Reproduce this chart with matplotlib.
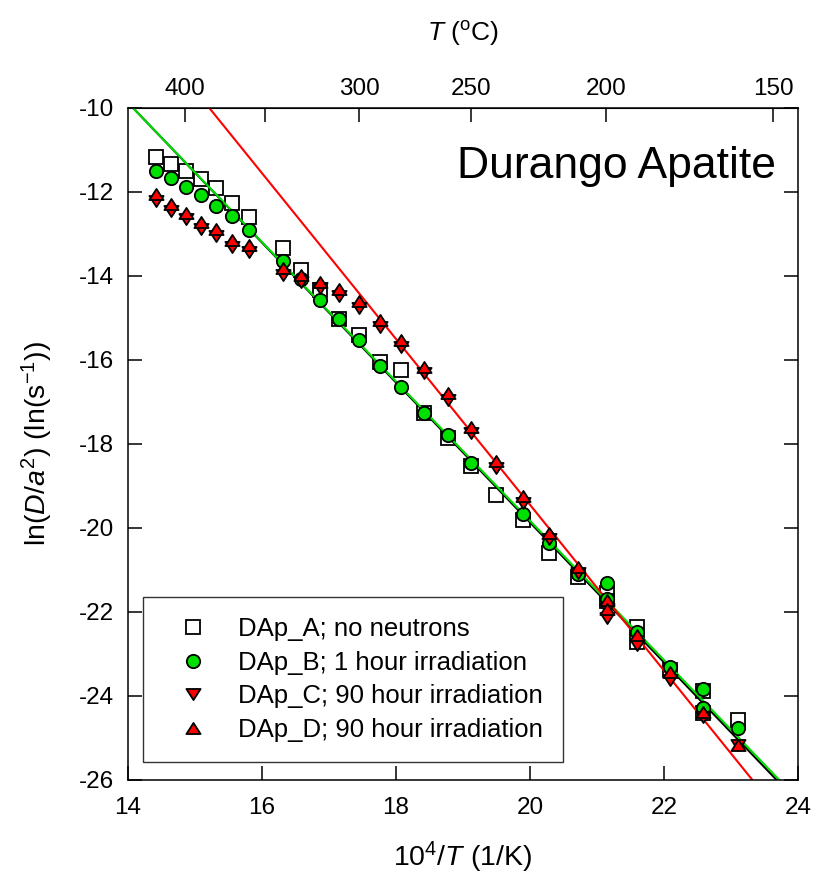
import matplotlib
matplotlib.use("Agg")
import matplotlib.pyplot as plt
import numpy as np
from matplotlib.path import Path

plt.rcParams['font.family'] = ['Liberation Sans', 'DejaVu Sans']
plt.rcParams['mathtext.fontset'] = 'custom'
plt.rcParams['mathtext.rm'] = 'Liberation Sans'
plt.rcParams['mathtext.it'] = 'Liberation Sans:italic'
plt.rcParams['axes.unicode_minus'] = False

# ---- data ----
A_x = [14.42, 14.64, 14.86, 15.09, 15.31, 15.55, 15.80, 16.31, 16.58, 16.86, 17.15, 17.45,
       17.76, 18.08, 18.42, 18.77, 19.12, 19.49, 19.89, 20.29, 20.71, 21.15, 21.15, 21.60,
       21.60, 22.09, 22.58, 22.58, 23.11]
A_y = [-11.18, -11.33, -11.50, -11.70, -11.92, -12.26, -12.61, -13.34, -13.86, -14.34, -15.04,
       -15.41, -16.05, -16.25, -17.26, -17.87, -18.53, -19.21, -19.81, -20.59, -21.16, -21.55,
       -21.75, -22.36, -22.72, -23.38, -23.88, -24.40, -24.57]

B_x = [14.42, 14.64, 14.86, 15.09, 15.31, 15.55, 15.80, 16.31, 16.58, 16.86, 17.15, 17.45,
       17.76, 18.08, 18.42, 18.77, 19.12, 19.89, 20.29, 20.71, 21.15, 21.15, 21.60, 22.09,
       22.58, 22.58, 23.11]
B_y = [-11.51, -11.67, -11.88, -12.08, -12.35, -12.58, -12.91, -13.64, -14.08, -14.58, -15.03,
       -15.54, -16.15, -16.65, -17.26, -17.80, -18.46, -19.67, -20.36, -21.09, -21.30, -21.70,
       -22.47, -23.30, -23.84, -24.29, -24.77]

C_x = [14.42, 14.64, 14.86, 15.09, 15.31, 15.55, 15.80, 16.31, 16.58, 16.86, 17.15, 17.45,
       17.76, 18.08, 18.42, 18.77, 19.12, 19.49, 19.89, 20.29, 20.71, 21.15, 21.15, 21.60,
       22.09, 22.58, 23.11]
C_y = [-12.22, -12.45, -12.66, -12.89, -13.05, -13.31, -13.43, -13.98, -14.14, -14.30, -14.48,
       -14.77, -15.21, -15.69, -16.32, -16.96, -17.75, -18.58, -19.40, -20.27, -21.08, -21.93,
       -22.14, -22.79, -23.62, -24.49, -25.16]

D_x = [14.42, 14.64, 14.86, 15.09, 15.31, 15.55, 15.80, 16.31, 16.58, 16.86, 17.15, 17.45,
       17.76, 18.08, 18.42, 18.77, 19.12, 19.49, 19.89, 20.29, 20.71, 21.15, 21.15, 21.60,
       22.09, 22.58, 23.11]
D_y = [-12.06, -12.29, -12.50, -12.73, -12.89, -13.15, -13.27, -13.82, -13.98, -14.14, -14.32,
       -14.61, -15.05, -15.53, -16.16, -16.80, -17.59, -18.42, -19.24, -20.11, -20.92, -21.71,
       -21.93, -22.55, -23.42, -24.37, -25.16]

# fitted Arrhenius lines: (slope, intercept)
fit_black = (-1.665, 13.43)
fit_green = (-1.658, 13.33)
fit_red = (-1.973, 20.01)

labels = ['DAp_A; no neutrons', 'DAp_B; 1 hour irradiation',
          'DAp_C; 90 hour irradiation', 'DAp_D; 90 hour irradiation']
top_ticks_C = [400, 350, 300, 250, 200, 150]
top_tick_labels = ['400', '', '300', '250', '200', '150']

# flattened triangle markers (SigmaPlot style)
tri_up = Path([(0, 0.78), (-1, -0.78), (1, -0.78), (0, 0.78)],
              [Path.MOVETO, Path.LINETO, Path.LINETO, Path.CLOSEPOLY])
tri_dn = Path([(0, -0.78), (-1, 0.78), (1, 0.78), (0, -0.78)],
              [Path.MOVETO, Path.LINETO, Path.LINETO, Path.CLOSEPOLY])

# ---- figure ----
fig = plt.figure(figsize=(8.15, 8.9), dpi=100)
ax = fig.add_axes([128/815, 1-780/890, 670/815, 672.3/890])

xl = np.array([13.5, 24.5])
ax.plot(xl, fit_black[0]*xl + fit_black[1], color='black', lw=1.5, zorder=2)
ax.plot(xl, fit_green[0]*xl + fit_green[1], color='#00dd00', lw=1.5, zorder=2.1)
ax.plot(xl, fit_red[0]*xl + fit_red[1], color='#ff0000', lw=1.5, zorder=2.2)

mew = 1.3
hA, = ax.plot(A_x, A_y, 's', ms=10, mfc='white', mec='black', mew=mew, zorder=1.5, label=labels[0])
hB, = ax.plot(B_x, B_y, 'o', ms=9.6, mfc='#00e000', mec='black', mew=mew, zorder=3, label=labels[1])
hC, = ax.plot(C_x, C_y, linestyle='none', marker=tri_dn, ms=10.2, mfc='#ff0000', mec='black',
              mew=mew, zorder=4, label=labels[2])
hD, = ax.plot(D_x, D_y, linestyle='none', marker=tri_up, ms=10.2, mfc='#ff0000', mec='black',
              mew=mew, zorder=4.1, label=labels[3])

ax.set_xlim(14, 24)
ax.set_ylim(-26, -10)
ax.set_xticks([14, 16, 18, 20, 22, 24])
ax.set_yticks([-26, -24, -22, -20, -18, -16, -14, -12, -10])
ax.tick_params(axis='both', direction='in', length=10, width=1.1, labelsize=17.5)
ax.tick_params(axis='x', pad=12)
ax.tick_params(axis='y', pad=10, right=True)
for s in ax.spines.values():
    s.set_linewidth(1.1)

ax.set_xlabel(r'10$^4$/$\mathit{T}$ (1/K)', fontsize=20.5, labelpad=15)
ax.set_ylabel(r'ln($\mathit{D/a}^2$) (ln(s$^{-1}$))', fontsize=20.5, labelpad=17)

def fwd(x):
    x = np.asarray(x, dtype=float)
    with np.errstate(divide='ignore'):
        return 1e4 / x - 273.15

def inv(t):
    t = np.asarray(t, dtype=float)
    with np.errstate(divide='ignore'):
        return 1e4 / (t + 273.15)

sec = ax.secondary_xaxis('top', functions=(fwd, inv))
sec.set_xticks(top_ticks_C)
sec.set_xticklabels(top_tick_labels)
sec.tick_params(direction='in', length=10, width=1.1, labelsize=17.5, pad=5.5)
sec.set_xlabel(r'$\mathit{T}$ ($^{\mathrm{o}}$C)', fontsize=19, labelpad=27)

ax.text(0.967, 0.913, 'Durango Apatite', transform=ax.transAxes, ha='right', va='center', fontsize=32)

leg = ax.legend(handles=[hA, hB, hC, hD], loc='lower left', bbox_to_anchor=(0.0224, 0.027),
                fontsize=18.5, frameon=True, fancybox=False, edgecolor='black',
                borderpad=0.78, labelspacing=0.37, handlelength=2.33, handletextpad=0.58,
                numpoints=1, borderaxespad=0)
leg.get_frame().set_linewidth(1.0)
leg.set_zorder(10)

fig.savefig('out.png', dpi=100)
